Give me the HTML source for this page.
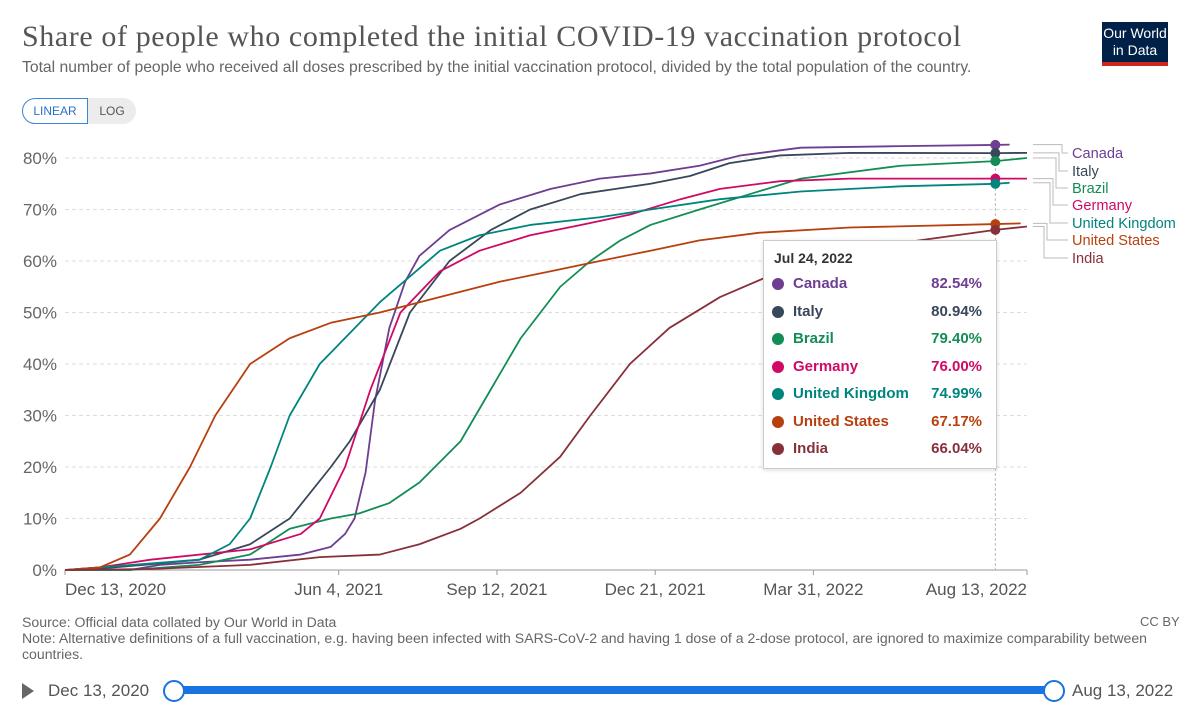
<!DOCTYPE html>
<html><head><meta charset="utf-8"><style>
body{margin:0;background:#fff;width:1200px;height:714px;overflow:hidden;font-family:"Liberation Sans",sans-serif}
.t{position:absolute;white-space:nowrap}
</style></head><body>
<div style="position:absolute;left:0;top:0;width:1200px;height:714px">
<div class="t" style="left:22px;top:20px;font-family:'Liberation Serif',serif;font-size:30px;letter-spacing:0.6px;color:#555">Share of people who completed the initial COVID-19 vaccination protocol</div>
<div class="t" style="left:22px;top:59px;font-size:15.7px;color:#666">Total number of people who received all doses prescribed by the initial vaccination protocol, divided by the total population of the country.</div>
<div style="position:absolute;left:1102px;top:22px;width:66px;height:44px;background:#002147;color:#fff;font-size:14px;text-align:center;line-height:17px;padding-top:3px;box-sizing:border-box;border-bottom:4px solid #ce261e">Our World<br>in Data</div>
<div style="position:absolute;left:22px;top:98px;width:66px;height:26px;border:1px solid #3a85d8;border-radius:13px 0 0 13px;box-sizing:border-box;color:#2a6fc9;font-size:12px;line-height:24px;text-align:center">LINEAR</div>
<div style="position:absolute;left:88px;top:98px;width:48px;height:26px;background:#ececec;border-radius:0 13px 13px 0;color:#555;font-size:12px;line-height:26px;text-align:center">LOG</div>
<svg id="chart" width="1200" height="714" style="position:absolute;left:0;top:0"></svg>
<div class="t" style="left:22px;top:614px;font-size:14.1px;color:#666;line-height:16px">Source: Official data collated by Our World in Data<br>Note: Alternative definitions of a full vaccination, e.g. having been infected with SARS-CoV-2 and having 1 dose of a 2-dose protocol, are ignored to maximize comparability between<br>countries.</div>
<div class="t" style="left:1140px;top:614px;font-size:13px;color:#666">CC BY</div>
<div style="position:absolute;left:22px;top:683px;width:0;height:0;border-left:12px solid #666;border-top:8px solid transparent;border-bottom:8px solid transparent"></div>
<div class="t" style="left:48px;top:681px;font-size:17px;color:#555">Dec 13, 2020</div>
<div style="position:absolute;left:173px;top:686px;width:880px;height:8px;background:#1a73e0"></div>
<div style="position:absolute;left:163px;top:680px;width:18px;height:18px;border:2px solid #1a73e0;border-radius:50%;background:#fff"></div>
<div style="position:absolute;left:1043px;top:680px;width:18px;height:18px;border:2px solid #1a73e0;border-radius:50%;background:#fff"></div>
<div class="t" style="left:1072px;top:681px;font-size:17px;color:#555">Aug 13, 2022</div>
<div style="position:absolute;left:763px;top:240px;width:232px;height:227px;background:#fff;border:1px solid #ccc;box-shadow:0 1px 4px rgba(0,0,0,.15);font-size:15px">
<div class="t" style="left:10px;top:9px;font-weight:bold;color:#333;font-size:14px">Jul 24, 2022</div>
<div id="tiprows"></div>
</div>
</div>
<script>
const names=["Canada","Italy","Brazil","Germany","United Kingdom","United States","India"];
const colors=["#6d3e91","#38475a","#138d55","#cf0a66","#00847e","#b8400f","#883039"];
const canada=[[0,0],[41,0],[60,1],[85,1.5],[117,2],[149,3],[168,4.5],[177,7],[183,10],[190,19],[196,33],[205,47],[215,56],[224,61],[243,66],[275,71],[307,74],[338,76],[370,77],[401,78.5],[427,80.5],[465,82],[528,82.3],[588,82.54],[597,82.6]];
const italy=[[0,0],[22,0.3],[50,1],[85,2],[117,5],[142,10],[168,20],[180,25],[199,35],[218,50],[243,60],[269,66],[294,70],[326,73],[370,75],[395,76.5],[420,79],[452,80.5],[496,81],[588,80.94],[608,81]];
const brazil=[[0,0],[41,0],[85,1],[117,3],[142,8],[168,10],[186,11],[205,13],[224,17],[250,25],[269,35],[288,45],[313,55],[332,60],[351,64],[370,67],[401,70],[433,73],[465,76],[528,78.5],[588,79.4],[608,80]];
const germany=[[0,0],[22,0.5],[54,2],[117,4],[149,7],[161,10],[177,20],[193,35],[212,50],[237,58],[262,62],[294,65],[326,67],[357,69],[389,72],[414,74],[452,75.5],[496,76],[588,76],[608,76]];
const uk=[[0,0],[22,0.5],[85,2],[104,5],[117,10],[130,20],[142,30],[161,40],[180,46],[199,52],[218,57],[237,62],[262,65],[294,67],[338,68.5],[370,70],[414,72],[465,73.5],[528,74.5],[588,74.99],[597,75.2]];
const us=[[0,0],[22,0.5],[41,3],[60,10],[79,20],[95,30],[117,40],[142,45],[168,48],[199,50],[237,53],[275,56],[307,58],[338,60],[370,62],[401,64],[439,65.5],[496,66.5],[588,67.17],[604,67.3]];
const india=[[0,0],[54,0.2],[117,1],[161,2.5],[199,3],[224,5],[250,8],[262,10],[288,15],[313,22],[332,30],[357,40],[382,47],[414,53],[452,58],[496,62],[540,64],[588,66.04],[608,66.7]];
const series=[canada,italy,brazil,germany,uk,us,india];
const tipValues=[82.54,80.94,79.40,76.00,74.99,67.17,66.04];
const hoverDay=588;
const yTicks=[0,10,20,30,40,50,60,70,80];
const xTickDays=[0,173,273,373,473,608];
const xTickLabels=["Dec 13, 2020","Jun 4, 2021","Sep 12, 2021","Dec 21, 2021","Mar 31, 2022","Aug 13, 2022"];

const NS="http://www.w3.org/2000/svg",svg=document.getElementById("chart");
const X0=65,X1=1027,Y0=570,Y80=158,DAYS=608;
const x=d=>X0+d/DAYS*(X1-X0), y=v=>Y0-v/80*(Y0-Y80);
function mk(t,a,p){const e=document.createElementNS(NS,t);for(const k in a)e.setAttribute(k,a[k]);(p||svg).appendChild(e);return e;}
yTicks.forEach(v=>{
 const l=mk("line",{x1:X0,x2:X1,y1:y(v),y2:y(v),stroke:v?"#ddd":"#999","stroke-dasharray":v?"4,3":""});
 
 
 const t=mk("text",{x:57,y:y(v)+6,"text-anchor":"end","font-size":17,fill:"#666"});t.textContent=v+"%";
 
 
});
xTickDays.forEach((d,i)=>{
 mk("line",{x1:x(d),x2:x(d),y1:Y0,y2:Y0+5,stroke:"#999"});
 const t=mk("text",{x:i==0?X0:(i==5?X1:x(d)),y:Y0+25,"text-anchor":i==0?"start":(i==5?"end":"middle"),"font-size":17,fill:"#555"});t.textContent=xTickLabels[i];
 
 
});
const hl=mk("line",{x1:x(hoverDay),x2:x(hoverDay),y1:148,y2:Y0,stroke:"#bbb","stroke-dasharray":"3,2"});


series.forEach((s,i)=>{
 const p=mk("polyline",{points:s.map(q=>x(q[0])+","+y(q[1])).join(" "),fill:"none",stroke:colors[i],"stroke-width":1.8,"stroke-linejoin":"round"});
 
 
});
series.forEach((s,i)=>{
 const c=mk("circle",{cx:x(hoverDay),cy:y(tipValues[i]),r:5,fill:colors[i]});
 
 
});
const labY=[153,171,188,205,223,240,258];
series.forEach((s,i)=>{
 const last=s[s.length-1], ey=y(last[1]);
 const mid=1062-i*3;
 const pl=mk("polyline",{points:`1033,${ey} ${mid},${ey} ${mid},${labY[i]} 1068,${labY[i]}`,fill:"none",stroke:"#bbb"});
 
 
 const t=mk("text",{x:1072,y:labY[i]+5,"font-size":14.6,fill:colors[i]});t.textContent=names[i];
 
 
});
const tr=document.getElementById("tiprows");
names.forEach((n,i)=>{
 const r=document.createElement("div");
 
 
 r.style.cssText=`position:absolute;left:0;top:${34+i*27.5}px;width:232px;height:20px;color:${colors[i]};font-weight:bold;font-size:15px`;
 r.innerHTML=`<span style="position:absolute;left:8px;top:3px;width:12px;height:12px;border-radius:50%;background:${colors[i]}"></span><span style="position:absolute;left:29px">${n}</span><span style="position:absolute;right:14px">${tipValues[i].toFixed(2)}%</span>`;
 tr.appendChild(r);
});
</script>
</body></html>
